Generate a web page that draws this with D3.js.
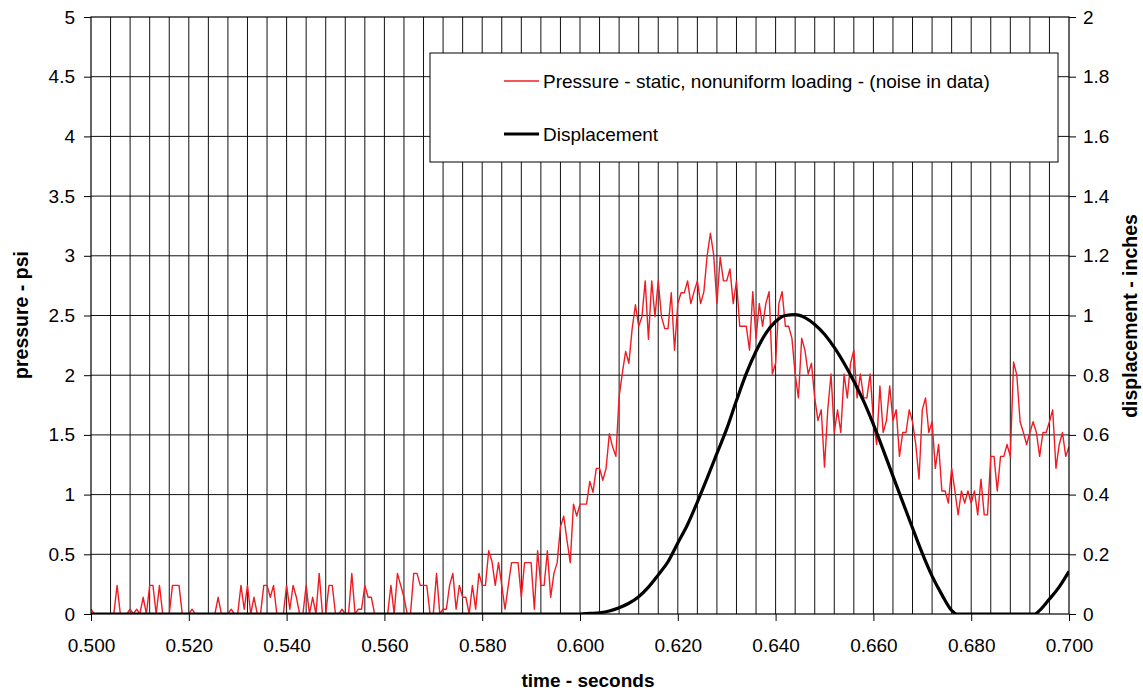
<!DOCTYPE html>
<html>
<head>
<meta charset="utf-8">
<script src="https://cdn.jsdelivr.net/npm/d3@7"></script>
<style>
  body { margin: 0; background: #fff; }
  svg { display: block; }
  text { font-family: "Liberation Sans", Arial, Helvetica, sans-serif; fill: #000; }
</style>
</head>
<body>
<svg id="chart" width="1143" height="693"></svg>
<script>
// Time window of the record (seconds)
const startTime = 0.5;
const endTime = 0.7;

// Static pressure, psi, uniformly sampled across the window
const pressure = [
  0.04,0,0,0,0,0,0,0,0.24,0,
  0,0,0.04,0,0.04,0,0.14,0,0.24,0.24,
  0,0.24,0,0,0,0.24,0.24,0.24,0,0,
  0,0.04,0,0,0,0,0,0,0,0.14,
  0,0,0,0.04,0,0,0.24,0.04,0.24,0,
  0.14,0,0,0.24,0.24,0.14,0.24,0,0,0,
  0.24,0.04,0.24,0.14,0,0,0.24,0,0.14,0,
  0.34,0,0,0.24,0.24,0,0,0.04,0,0,
  0.34,0,0.04,0.04,0.24,0.14,0.14,0,0,0,
  0,0,0.24,0,0.34,0.24,0.14,0,0,0.34,
  0.34,0.24,0.24,0.24,0,0,0.34,0,0.04,0.04,
  0.24,0.34,0.04,0.24,0.14,0.14,0,0.24,0.04,0.34,
  0.24,0.24,0.53,0.44,0.24,0.43,0.24,0.04,0.24,0.43,
  0.43,0.43,0.14,0.43,0.43,0.43,0.04,0.53,0.24,0.24,
  0.53,0.14,0.34,0.43,0.73,0.82,0.62,0.43,0.92,0.82,
  0.92,0.92,0.92,1.11,1.02,1.22,1.22,1.12,1.22,1.51,
  1.40,1.32,1.82,2.02,2.20,2.10,2.39,2.59,2.41,2.49,
  2.79,2.30,2.79,2.49,2.79,2.49,2.39,2.39,2.69,2.21,
  2.60,2.69,2.69,2.79,2.60,2.70,2.79,2.60,2.70,3.00,
  3.19,3.01,2.60,2.99,2.79,2.79,2.89,2.60,2.79,2.41,
  2.41,2.41,2.21,2.70,2.31,2.60,2.41,2.60,2.70,2.01,
  2.10,2.60,2.70,2.41,2.41,2.31,2.01,1.81,2.31,2.21,
  2.01,2.10,1.81,1.62,1.71,1.23,1.71,2.01,1.52,1.71,
  1.52,2.01,1.81,2.10,2.21,1.81,2.01,1.81,1.81,2.01,
  1.62,1.42,1.91,1.52,1.62,1.91,1.62,1.71,1.32,1.52,
  1.52,1.71,1.61,1.42,1.13,1.71,1.81,1.52,1.61,1.22,
  1.42,1.03,1.03,0.93,1.22,1.03,0.83,1.03,0.93,1.03,
  0.93,1.03,0.83,1.13,0.83,0.83,1.32,1.32,1.03,1.32,
  1.32,1.42,1.32,2.11,2.00,1.61,1.52,1.42,1.52,1.61,
  1.52,1.32,1.52,1.52,1.61,1.71,1.22,1.42,1.52,1.32,
  1.40
];

// Displacement, inches (secondary axis)
const dispTime = [
  0.500, 0.600, 0.602, 0.604, 0.606, 0.608, 0.610, 0.612, 0.614, 0.616,
  0.618, 0.620, 0.622, 0.624, 0.626, 0.628, 0.630, 0.632, 0.634, 0.636,
  0.638, 0.640, 0.642, 0.644, 0.646, 0.648, 0.650, 0.652, 0.654, 0.656,
  0.658, 0.660, 0.662, 0.664, 0.666, 0.668, 0.670, 0.672, 0.674, 0.676,
  0.677, 0.693, 0.694, 0.696, 0.698, 0.700
];
const dispInches = [
  0, 0, 0.002, 0.004, 0.010, 0.021, 0.036, 0.058, 0.090, 0.131,
  0.175, 0.238, 0.300, 0.375, 0.455, 0.538, 0.620, 0.715, 0.805, 0.880,
  0.940, 0.980, 1.000, 1.003, 0.993, 0.970, 0.937, 0.893, 0.840, 0.780,
  0.713, 0.635, 0.550, 0.462, 0.375, 0.288, 0.203, 0.127, 0.065, 0.012,
  0, 0, 0.012, 0.050, 0.091, 0.143
];

// Axis ticks
const timeTicks = [0.50, 0.52, 0.54, 0.56, 0.58, 0.60, 0.62, 0.64, 0.66, 0.68, 0.70];
const pressureTicks = [0, 0.5, 1, 1.5, 2, 2.5, 3, 3.5, 4, 4.5, 5];
const dispTicks = [0, 0.2, 0.4, 0.6, 0.8, 1, 1.2, 1.4, 1.6, 1.8, 2];
const gridStep = 0.004;

const legendLabels = [
  "Pressure - static, nonuniform loading - (noise in data)",
  "Displacement"
];
const titles = { x: "time - seconds", yLeft: "pressure - psi", yRight: "displacement - inches" };

// ---------------------------------------------------------------
const svg = d3.select("#chart");
const plot = { left: 91, right: 1069, top: 17, bottom: 614 };

const x = d3.scaleLinear().domain([startTime, endTime]).range([plot.left, plot.right]);
const yP = d3.scaleLinear().domain([0, 5]).range([plot.bottom, plot.top]);
const yD = d3.scaleLinear().domain([0, 2]).range([plot.bottom, plot.top]);

svg.append("rect").attr("width", 1143).attr("height", 693).attr("fill", "#fff");

svg.append("clipPath").attr("id", "plotClip")
  .append("rect")
  .attr("x", plot.left).attr("y", plot.top)
  .attr("width", plot.right - plot.left).attr("height", plot.bottom - plot.top);

// Gridlines
const grid = svg.append("g").attr("stroke", "#111").attr("stroke-width", 1);
const gridTimes = d3.range(1, Math.round((endTime - startTime) / gridStep))
  .map(k => startTime + k * gridStep);
grid.selectAll("line.v").data(gridTimes).join("line")
  .attr("x1", d => x(d)).attr("x2", d => x(d))
  .attr("y1", plot.top).attr("y2", plot.bottom);
grid.selectAll("line.h").data(pressureTicks.slice(1, -1)).join("line")
  .attr("x1", plot.left).attr("x2", plot.right)
  .attr("y1", d => yP(d)).attr("y2", d => yP(d));

// Axes
const fmtTime = d3.format(".3f");
const fmtNum = d3.format("~g");
const tickFont = "19px";

const axL = svg.append("g").attr("transform", `translate(${plot.left},0)`)
  .call(d3.axisLeft(yP).tickValues(pressureTicks).tickFormat(fmtNum).tickSize(7).tickPadding(9));
const axR = svg.append("g").attr("transform", `translate(${plot.right},0)`)
  .call(d3.axisRight(yD).tickValues(dispTicks).tickFormat(fmtNum).tickSize(7).tickPadding(7));
const axB = svg.append("g").attr("transform", `translate(0,${plot.bottom})`)
  .call(d3.axisBottom(x).tickValues(timeTicks).tickFormat(fmtTime).tickSize(7).tickPadding(18));

[axL, axR, axB].forEach(ax => {
  ax.select(".domain").remove();
  ax.selectAll(".tick line").attr("stroke", "#000").attr("stroke-width", 1);
  ax.selectAll("text").style("font-size", tickFont).attr("fill", "#000");
  ax.attr("font-family", null);
});

// Series
const pressurePts = pressure.map((p, i) => [
  startTime + i * (endTime - startTime) / (pressure.length - 1), p
]);
const dispPts = dispTime.map((t, i) => [t, dispInches[i]]);

const series = svg.append("g").attr("clip-path", "url(#plotClip)");
series.append("path")
  .datum(pressurePts)
  .attr("fill", "none")
  .attr("stroke", "#f01c24")
  .attr("stroke-width", 1.4)
  .attr("stroke-linejoin", "round")
  .attr("d", d3.line().x(d => x(d[0])).y(d => yP(d[1])));

series.append("path")
  .datum(dispPts)
  .attr("fill", "none")
  .attr("stroke", "#000")
  .attr("stroke-width", 3.2)
  .attr("stroke-linejoin", "round")
  .attr("d", d3.line().curve(d3.curveMonotoneX).x(d => x(d[0])).y(d => yD(d[1])));

// Plot frame
svg.append("rect")
  .attr("x", plot.left).attr("y", plot.top)
  .attr("width", plot.right - plot.left).attr("height", plot.bottom - plot.top)
  .attr("fill", "none").attr("stroke", "#000").attr("stroke-width", 1.2);

// Axis titles
svg.append("text")
  .attr("x", (plot.left + plot.right) / 2 + 8).attr("y", 687)
  .attr("text-anchor", "middle")
  .style("font-size", "19px").style("font-weight", "bold")
  .text(titles.x);
svg.append("text")
  .attr("transform", `translate(28,315) rotate(-90)`)
  .attr("text-anchor", "middle")
  .style("font-size", "19.5px").style("font-weight", "bold")
  .text(titles.yLeft);
svg.append("text")
  .attr("transform", `translate(1137,316) rotate(-90)`)
  .attr("text-anchor", "middle")
  .style("font-size", "19.5px").style("font-weight", "bold")
  .text(titles.yRight);

// Legend
const legend = svg.append("g");
legend.append("rect")
  .attr("x", 430).attr("y", 53).attr("width", 628).attr("height", 109)
  .attr("fill", "#fff").attr("stroke", "#000").attr("stroke-width", 1);
const legendStyles = [
  { color: "#f01c24", width: 1.4 },
  { color: "#000", width: 3.2 }
];
const legendRows = [81, 134];
legendLabels.forEach((label, i) => {
  legend.append("line")
    .attr("x1", 504).attr("x2", 539)
    .attr("y1", legendRows[i]).attr("y2", legendRows[i])
    .attr("stroke", legendStyles[i].color).attr("stroke-width", legendStyles[i].width);
  legend.append("text")
    .attr("x", 543).attr("y", legendRows[i] + 7)
    .style("font-size", "19px")
    .text(label);
});
</script>
</body>
</html>
